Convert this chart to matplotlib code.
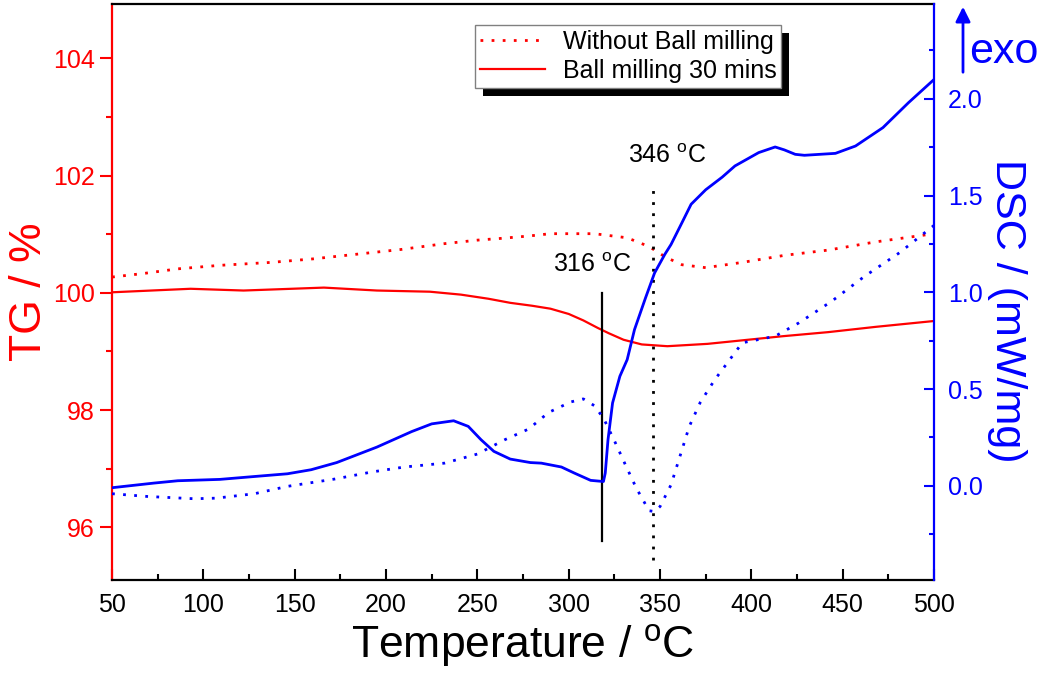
import matplotlib
matplotlib.use('Agg')
import matplotlib.pyplot as plt
import matplotlib.patches as patches
from matplotlib.ticker import MultipleLocator

plt.rcParams['font.family'] = ['Liberation Sans', 'DejaVu Sans']
plt.rcParams['mathtext.fontset'] = 'custom'
plt.rcParams['mathtext.rm'] = 'Liberation Sans'

# TG, ball milled 30 mins (solid red)
t_tg_bm = [50, 93, 122, 166, 195, 224, 241, 256, 268, 280, 290, 300, 308, 316, 322, 330, 340,
           354, 376, 395, 417, 442, 468, 500]
tg_bm = [100.01, 100.07, 100.04, 100.09, 100.04, 100.02, 99.97, 99.90, 99.83, 99.78, 99.73, 99.64,
         99.53, 99.40, 99.31, 99.20, 99.12, 99.09, 99.13, 99.19, 99.26, 99.33, 99.42, 99.52]

# TG, without ball milling (dotted red)
t_tg_raw = [50, 67, 86, 109, 137, 160, 184, 208, 232, 250, 263, 278, 290, 314, 332, 344,
            353, 362, 375, 395, 418, 442, 468, 500]
tg_raw = [100.27, 100.33, 100.41, 100.47, 100.52, 100.58, 100.66, 100.74, 100.84, 100.90, 100.93,
          100.97, 101.01, 101.01, 100.94, 100.79, 100.61, 100.48, 100.43, 100.52, 100.64, 100.73,
          100.87, 101.01]

# DSC, ball milled 30 mins (solid blue)
t_dsc_bm = [50, 73, 86, 109, 128, 146, 159, 173, 195, 214, 225, 237, 245, 252, 259, 268, 279,
            285, 296, 303, 312, 319, 320, 321.5, 324, 328, 332, 336, 342, 347, 352.6, 356, 362,
            367, 375, 384, 391, 404, 413, 418, 424, 429, 446, 457, 472, 486, 500]
dsc_bm = [-0.01, 0.014, 0.026, 0.033, 0.048, 0.062, 0.083, 0.12, 0.20, 0.28, 0.32, 0.336, 0.307,
          0.238, 0.178, 0.138, 0.12, 0.117, 0.097, 0.066, 0.028, 0.022, 0.066, 0.238, 0.428, 0.566,
          0.652, 0.807, 0.97, 1.10, 1.196, 1.247, 1.36, 1.455, 1.53, 1.595, 1.653, 1.722, 1.751,
          1.736, 1.713, 1.708, 1.718, 1.756, 1.851, 1.98, 2.10]

# DSC, without ball milling (dotted blue)
t_dsc_raw = [50, 69, 95, 107, 128, 146, 172, 192, 210, 232, 250, 265, 278, 289, 301, 308, 314,
             319, 325, 331, 337, 344, 347, 350, 356, 362, 366, 372, 380, 385, 395, 413, 426, 444,
             462, 481, 500]
dsc_raw = [-0.041, -0.055, -0.067, -0.064, -0.041, -0.003, 0.035, 0.071, 0.097, 0.117, 0.164,
           0.238, 0.293, 0.379, 0.433, 0.449, 0.414, 0.35, 0.233, 0.109, -0.012, -0.129, -0.133,
           -0.107, 0.005, 0.186, 0.307, 0.431, 0.549, 0.612, 0.739, 0.773, 0.842, 0.954, 1.083,
           1.204, 1.346]

# marker lines (temperature, TG range) and their labels (T, TG of text baseline)
mark_316 = [318, 95.76, 100.0]
mark_346 = [346, 95.45, 101.87]
text_316 = [291.5, 100.35, '316 $^{\\mathrm{o}}$C']
text_346 = [332.7, 102.22, '346 $^{\\mathrm{o}}$C']
labels = ['Without Ball milling', 'Ball milling 30 mins']

fig = plt.figure(figsize=(10.5, 6.86), dpi=100)
ax = fig.add_axes([0.1067, 0.1545, 0.7829, 0.8397])
ax2 = ax.twinx()

red = '#ff0000'
blue = '#0000ff'
dots = (0, (1, 3))

l_raw, = ax.plot(t_tg_raw, tg_raw, color=red, lw=2.0, linestyle=dots)
l_bm, = ax.plot(t_tg_bm, tg_bm, color=red, lw=1.6)
ax.plot([mark_316[0]] * 2, mark_316[1:], color='black', lw=1.6)
ax.plot([mark_346[0]] * 2, mark_346[1:], color='black', lw=2.0, linestyle=dots)

ax2.plot(t_dsc_raw, dsc_raw, color=blue, lw=2.0, linestyle=dots)
ax2.plot(t_dsc_bm, dsc_bm, color=blue, lw=2.0)

ax.set_xlim(50, 500)
ax.set_ylim(95.1, 104.93)
ax2.set_ylim(-0.487, 2.49)

ax.xaxis.set_major_locator(MultipleLocator(50))
ax.xaxis.set_minor_locator(MultipleLocator(25))
ax.yaxis.set_major_locator(MultipleLocator(2))
ax.yaxis.set_minor_locator(MultipleLocator(1))
ax2.yaxis.set_major_locator(MultipleLocator(0.5))
ax2.yaxis.set_minor_locator(MultipleLocator(0.25))
ax2.yaxis.set_major_formatter(matplotlib.ticker.FormatStrFormatter('%.1f'))

ax.tick_params(axis='x', which='major', direction='in', length=8, width=1.5, labelsize=18,
               pad=9, top=False)
ax.tick_params(axis='x', which='minor', direction='in', length=4, width=1.5, top=False)
ax.tick_params(axis='y', which='major', direction='out', length=8.5, width=1.5, labelsize=18,
               colors=red, pad=4)
ax.tick_params(axis='y', which='minor', direction='out', length=4, width=1.5, colors=red)
ax2.tick_params(axis='y', which='major', direction='in', length=7, width=1.5, labelsize=18,
                colors=blue, pad=10)
ax2.tick_params(axis='y', which='minor', direction='in', length=3.5, width=1.5, colors=blue)

for s in ['top', 'bottom']:
    ax.spines[s].set_linewidth(1.6)
    ax2.spines[s].set_visible(False)
ax.spines['left'].set_color(red)
ax.spines['left'].set_linewidth(1.6)
ax.spines['right'].set_visible(False)
ax2.spines['left'].set_visible(False)
ax2.spines['right'].set_color(blue)
ax2.spines['right'].set_linewidth(1.6)

ax.set_xlabel('Temperature / $^{\\mathrm{o}}$C', fontsize=32, labelpad=4)
ax.set_ylabel('TG / %', fontsize=32, color=red, labelpad=2)
ax2.set_ylabel('DSC / (mW/mg)', fontsize=31, color=blue, rotation=270, labelpad=32)
ax2.yaxis.label.set_y(0.467)

ax.text(text_316[0], text_316[1], text_316[2], fontsize=18, va='baseline')
ax.text(text_346[0], text_346[1], text_346[2], fontsize=18, va='baseline')

# exo arrow in the top right corner
fig.add_artist(patches.FancyArrowPatch((963 / 1050, 1 - 75 / 686), (963 / 1050, 1 - 4 / 686),
                                       transform=fig.transFigure, arrowstyle='-|>',
                                       mutation_scale=22, color=blue, lw=2))
fig.text(969 / 1050, 1 - 63 / 686, 'exo', fontsize=31, color=blue)

leg = ax2.legend([l_raw, l_bm], labels, loc='upper left', bbox_to_anchor=(0.4416, 0.9635),
                 borderaxespad=0, fontsize=18, frameon=True, fancybox=False, edgecolor='#808080',
                 framealpha=1, handlelength=2.6, handletextpad=0.7, labelspacing=0.2,
                 borderpad=0.2)
leg.get_frame().set_linewidth(1.0)

fig.canvas.draw()
bb = leg.get_window_extent().transformed(ax2.transAxes.inverted())
sx = 8 / (0.7829 * 1050)
sy = 8 / (0.8397 * 686)
shadow = patches.Rectangle((bb.x0 + sx, bb.y0 - sy), bb.width, bb.height, transform=ax2.transAxes,
                           facecolor='black', edgecolor='none', zorder=4.5, clip_on=False)
ax2.add_patch(shadow)

plt.savefig('out.png', dpi=100)
